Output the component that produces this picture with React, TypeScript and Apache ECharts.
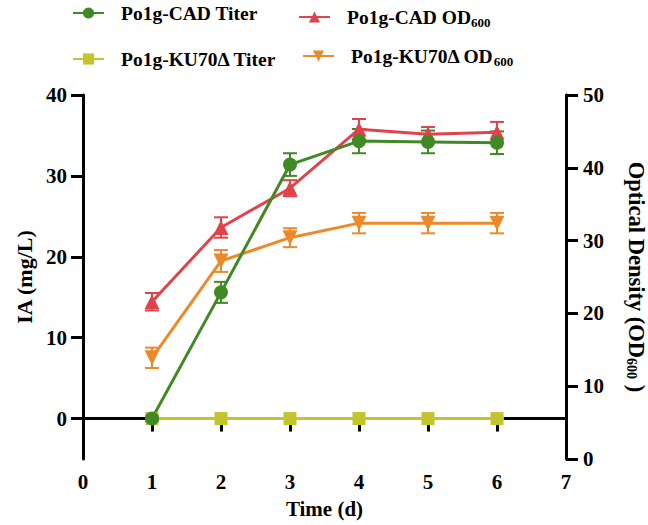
import React, { useEffect, useRef } from "react";
import * as echarts from "echarts";

const days = [1, 2, 3, 4, 5, 6];
const cadTiter = [0, 15.6, 31.4, 34.3, 34.2, 34.1];
const cadTiterErr = [0.3, 1.3, 1.4, 1.5, 1.4, 1.4];
const kuTiter = [0, 0, 0, 0, 0, 0];
const kuTiterErr = [0, 0, 0, 0, 0, 0];
const cadOD = [21.6, 31.8, 37.2, 45.3, 44.6, 44.9];
const cadODErr = [1.2, 1.4, 1.1, 1.4, 1.0, 1.4];
const kuOD = [13.9, 27.2, 30.4, 32.4, 32.4, 32.4];
const kuODErr = [1.4, 1.5, 1.3, 1.4, 1.4, 1.4];
const leftTicks = [0, 10, 20, 30, 40];

const FONT = "'Liberation Serif', 'Times New Roman', serif";
const GREEN = "#3f8a24";
const YELLOW = "#c3c52f";
const RED = "#e0434b";
const ORANGE = "#ea8a2a";

function pts(vals: number[]) {
  return days.map((d, i) => [d, vals[i]]);
}
function errPts(vals: number[], errs: number[]) {
  return days.map((d, i) => [d, vals[i] - errs[i], vals[i] + errs[i]]);
}

function errSeries(vals: number[], errs: number[], color: string, yAxisIndex: number) {
  return {
    type: "custom",
    xAxisIndex: 0,
    yAxisIndex,
    data: errPts(vals, errs),
    encode: { x: 0, y: [1, 2] },
    silent: true,
    renderItem: (params: any, api: any) => {
      const x = api.value(0);
      const lo = api.coord([x, api.value(1)]);
      const hi = api.coord([x, api.value(2)]);
      const hw = 7;
      const style = { stroke: color, lineWidth: 2 };
      return {
        type: "group",
        children: [
          { type: "line", shape: { x1: lo[0], y1: lo[1], x2: hi[0], y2: hi[1] }, style },
          { type: "line", shape: { x1: lo[0] - hw, y1: lo[1], x2: lo[0] + hw, y2: lo[1] }, style },
          { type: "line", shape: { x1: hi[0] - hw, y1: hi[1], x2: hi[0] + hw, y2: hi[1] }, style },
        ],
      };
    },
  };
}

const richBase = {
  g: { width: 12 },
  a: { fontFamily: FONT, fontWeight: "bold", fontSize: 19.5, color: "#000" },
  s: { fontFamily: FONT, fontWeight: "bold", fontSize: 13, color: "#000", padding: [10, 0, 0, 0] },
};

function legendFormatter(name: string) {
  if (name.endsWith("OD600")) {
    return `{g|}{a|${name.slice(0, -3)}}{s|600}`;
  }
  return `{g|}{a|${name}}`;
}

function makeLegend(name: string, left: number, top: number) {
  return {
    data: [name],
    left,
    top,
    padding: 0,
    orient: "horizontal",
    itemWidth: 31,
    itemHeight: 14,
    selectedMode: false,
    formatter: legendFormatter,
    textStyle: { fontFamily: FONT, fontWeight: "bold", fontSize: 19.5, color: "#000", rich: richBase },
  };
}

export default function App() {
  const ref = useRef<HTMLDivElement>(null);
  useEffect(() => {
    document.body.style.margin = "0";
    const chart = echarts.init(ref.current!, null, { renderer: "svg" });
    const axisLine = { show: true, lineStyle: { color: "#000", width: 3 } };
    const axisTickStyle = { lineStyle: { color: "#000", width: 3 } };
    const labelStyle = { fontFamily: FONT, fontWeight: "bold", fontSize: 21, color: "#000" };
    chart.setOption({
      animation: false,
      backgroundColor: "#fff",
      legend: [
        makeLegend("Po1g-CAD Titer", 72, 3),
        makeLegend("Po1g-CAD OD600", 298, 7),
        makeLegend("Po1g-KU70Δ Titer", 72, 49),
        makeLegend("Po1g-KU70Δ OD600", 302, 46),
      ],
      grid: { left: 83, right: 82, top: 95, bottom: 66, containLabel: false, outerBoundsMode: "none" },
      xAxis: {
        type: "value",
        min: 0,
        max: 7,
        interval: 1,
        name: "Time (d)",
        nameLocation: "middle",
        nameGap: 39,
        nameTextStyle: { fontFamily: FONT, fontWeight: "bold", fontSize: 21, color: "#000" },
        axisLine,
        axisTick: { show: true, length: 13, ...axisTickStyle },
        axisLabel: { ...labelStyle, margin: 12 },
        splitLine: { show: false },
      },
      yAxis: [
        {
          type: "value",
          position: "left",
          min: -5,
          max: 40,
          name: "IA (mg/L)",
          nameLocation: "middle",
          nameGap: 42,
          nameTextStyle: { fontFamily: FONT, fontWeight: "bold", fontSize: 22, color: "#000" },
          axisLine,
          axisTick: { show: true, length: 12, customValues: leftTicks, ...axisTickStyle },
          axisLabel: { ...labelStyle, margin: 16, customValues: leftTicks },
          splitLine: { show: false },
        },
        {
          type: "value",
          position: "right",
          min: 0,
          max: 50,
          interval: 10,
          name: "{a|Optical Density (OD}{s|600}{a| )}",
          nameLocation: "middle",
          nameGap: 58,
          nameRotate: -90,
          nameTextStyle: {
            fontFamily: FONT,
            fontWeight: "bold",
            fontSize: 22,
            color: "#000",
            rich: {
              a: { fontFamily: FONT, fontWeight: "bold", fontSize: 22.5, color: "#000" },
              s: { fontFamily: FONT, fontWeight: "bold", fontSize: 14, color: "#000", padding: [11, 0, 0, 0] },
            },
          },
          axisLine,
          axisTick: { show: true, length: 12, ...axisTickStyle },
          axisLabel: { ...labelStyle, margin: 17 },
          splitLine: { show: false },
        },
      ],
      series: [
        errSeries(kuTiter, kuTiterErr, YELLOW, 0),
        {
          name: "Po1g-KU70Δ Titer",
          type: "line",
          yAxisIndex: 0,
          data: pts(kuTiter),
          symbol: "rect",
          symbolSize: 13,
          color: YELLOW,
          lineStyle: { width: 3, color: YELLOW },
          itemStyle: { color: YELLOW },
        },
        errSeries(kuOD, kuODErr, ORANGE, 1),
        {
          name: "Po1g-KU70Δ OD600",
          type: "line",
          yAxisIndex: 1,
          data: pts(kuOD),
          symbol: "triangle",
          symbolRotate: 180,
          symbolSize: 15,
          color: ORANGE,
          lineStyle: { width: 3, color: ORANGE },
          itemStyle: { color: ORANGE },
        },
        errSeries(cadOD, cadODErr, RED, 1),
        {
          name: "Po1g-CAD OD600",
          type: "line",
          yAxisIndex: 1,
          data: pts(cadOD),
          symbol: "triangle",
          symbolSize: 15,
          color: RED,
          lineStyle: { width: 3, color: RED },
          itemStyle: { color: RED },
        },
        errSeries(cadTiter, cadTiterErr, GREEN, 0),
        {
          name: "Po1g-CAD Titer",
          type: "line",
          yAxisIndex: 0,
          data: pts(cadTiter),
          symbol: "circle",
          symbolSize: 14,
          color: GREEN,
          lineStyle: { width: 3, color: GREEN },
          itemStyle: { color: GREEN },
        },
      ],
    });
    return () => chart.dispose();
  }, []);
  return <div ref={ref} style={{ width: 648, height: 525 }} />;
}
